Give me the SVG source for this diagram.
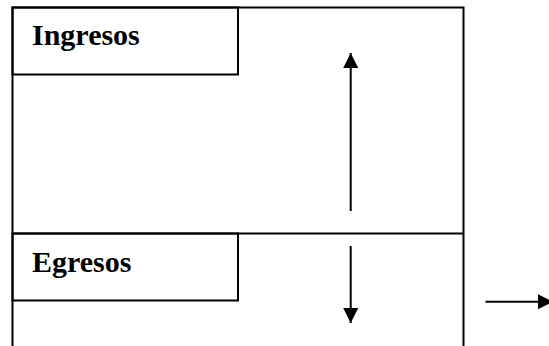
<svg xmlns="http://www.w3.org/2000/svg" width="549" height="346" viewBox="0 0 549 346">
<defs>
<style>
.box{fill:none;stroke:#000;stroke-width:2}
.lbl{font-family:"Liberation Serif","Times New Roman",serif;font-weight:bold;font-size:30px;fill:#000}
.conn{stroke:#000;stroke-width:2;fill:none}
</style>
<marker id="ah" viewBox="0 0 10 10" refX="10" refY="5" markerWidth="7.5" markerHeight="7.5" markerUnits="strokeWidth" orient="auto">
<path d="M0,0 L10,5 L0,10 Z" fill="#000"/>
</marker>
</defs>
<rect width="549" height="346" fill="#fff"/>
<g id="frame">
<rect class="box" x="12.5" y="7.5" width="451" height="345"/>
<line class="box" x1="12.5" y1="233.5" x2="463.5" y2="233.5"/>
</g>
<g id="ingresos">
<rect class="box" x="12.5" y="7.5" width="225.5" height="67"/>
<text class="lbl" x="32" y="45">Ingresos</text>
</g>
<g id="egresos">
<rect class="box" x="12.5" y="233.5" width="225.5" height="67"/>
<text class="lbl" x="32" y="271.5">Egresos</text>
</g>
<g id="connectors">
<line class="conn" x1="350.7" y1="211" x2="350.7" y2="53" marker-end="url(#ah)"/>
<line class="conn" x1="350.7" y1="246" x2="350.7" y2="323" marker-end="url(#ah)"/>
<line class="conn" x1="485.5" y1="301.7" x2="553" y2="301.7" marker-end="url(#ah)"/>
</g>
</svg>
